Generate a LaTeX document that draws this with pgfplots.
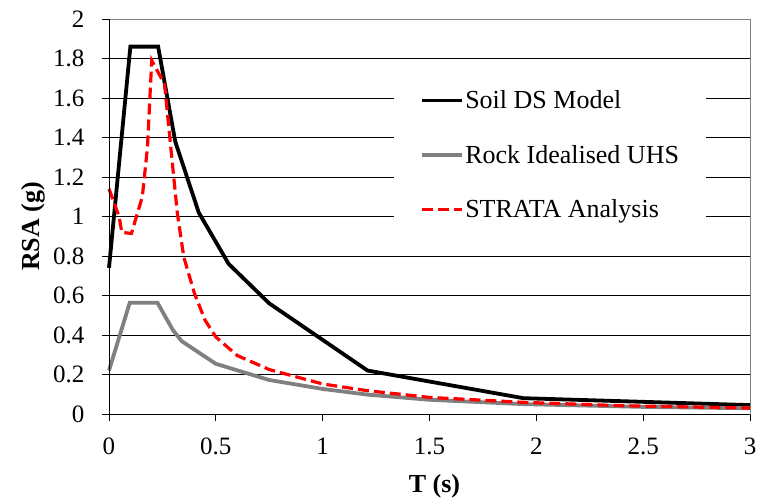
\documentclass[border=0pt]{standalone}
\usepackage{pgfplots}
\pgfplotsset{compat=1.18}
\usepackage{fontspec}
\setmainfont{Liberation Serif}

\definecolor{rockgray}{RGB}{128,128,128}

\begin{document}
\begin{tikzpicture}
\begin{axis}[
    name = ax,
    scale only axis,
    width = 641pt, height = 395pt,
    xmin = 0, xmax = 3,
    ymin = 0, ymax = 2,
    xtick distance = 0.5,
    ytick distance = 0.2,
    ymajorgrids,
    grid style = {black, line width=0.8pt},
    axis line style = {draw=rockgray, line width=0.8pt},
    tick style = {black, line width=0.8pt},
    tick align = outside,
    xtick pos = bottom, ytick pos = left,
    major tick length = 7pt,
    font = \rmfamily\fontsize{26}{31}\selectfont,
    /pgf/number format/assume math mode = true,
    ticklabel style = {font=\rmfamily\fontsize{25}{30}\selectfont},
    yticklabel style = {xshift=-14pt},
    xticklabel style = {yshift=-13pt},
    xlabel = {\textbf{T (s)}},
    ylabel = {\textbf{RSA (g)}},
    xlabel style = {at={(axis description cs:0.5,0)}, anchor=center, xshift=5pt, yshift=-72pt},
    ylabel style = {at={(axis description cs:0,0.5)}, anchor=center, xshift=-10pt, yshift=76pt},
    clip = false,
    legend cell align = left,
    legend style = {
        at = {(rel axis cs:0.445,0.895)}, anchor = north west,
        draw = none, fill = white,
        font = \rmfamily\fontsize{26}{31}\selectfont,
        row sep = 31pt,
        inner xsep = 26pt, inner ysep = 28pt,
        nodes = {inner xsep=1pt},
    },
    legend image code/.code = {\draw[#1] (0pt,0pt) -- (40pt,0pt);},
]

\addplot[black, line width=3.8pt] coordinates {
    (0,0.74) (0.1,1.86) (0.23,1.86) (0.31,1.38) (0.42,1.02) (0.56,0.76)
    (0.75,0.56) (1.21,0.22) (1.94,0.08) (3,0.045)
};

\addplot[rockgray, line width=3.8pt] coordinates {
    (0,0.22) (0.097,0.563) (0.227,0.563) (0.3,0.423) (0.34,0.369) (0.5,0.254)
    (0.75,0.172) (1.0,0.127) (1.21,0.098) (1.5,0.072) (1.94,0.05) (2.5,0.036) (3,0.029)
};

\addplot[red, line width=3.2pt, dash pattern=on 11pt off 5pt] coordinates {
    (0,1.14) (0.047,1.0) (0.06,0.92) (0.105,0.914) (0.156,1.1) (0.18,1.35)
    (0.2,1.79) (0.26,1.67) (0.28,1.45) (0.32,1.015) (0.35,0.795) (0.4,0.61)
    (0.45,0.474) (0.5,0.39) (0.6,0.296) (0.75,0.225) (1.0,0.152) (1.21,0.118)
    (1.5,0.084) (1.94,0.059) (2.4,0.042) (3,0.03)
};

\legend{Soil DS Model, Rock Idealised UHS, STRATA Analysis}

\draw[black, line width=0.8pt] (rel axis cs:0,1) -- (rel axis cs:0,0) -- (rel axis cs:1,0);
\end{axis}
\pgfresetboundingbox
\path[use as bounding box] ([shift={(-109pt,-88pt)}]ax.south west) rectangle ([shift={(8pt,19pt)}]ax.north east);
\end{tikzpicture}
\end{document}
